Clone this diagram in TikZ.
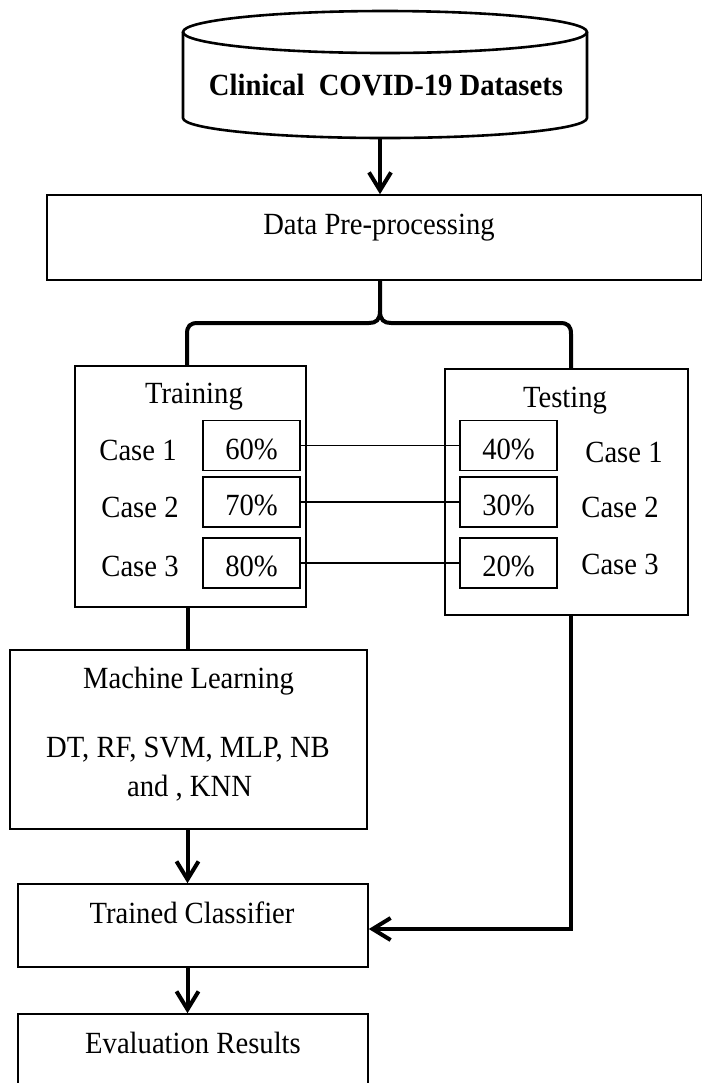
\documentclass[tikz,border=0pt]{standalone}
\usepackage{fontspec}
\setmainfont{Liberation Serif}[FakeStretch=0.93]
\usetikzlibrary{arrows.meta}
\begin{document}
\begin{tikzpicture}[x=0.5pt,y=-0.5pt,
  frame/.style={draw, line width=0.8pt, inner sep=0pt},
  lbl/.style={font=\fontsize{15.4pt}{17pt}\selectfont, inner sep=0pt, anchor=base},
  pct/.style={frame, minimum width=48.5pt, minimum height=25pt, text height=13.75pt, text depth=0pt, font=\fontsize{15.4pt}{17pt}\selectfont},
  heavy/.style={line width=2pt},
  arr/.style={line width=2pt, -{Straight Barb[length=9pt,width=11pt]}},
  link/.style={line width=0.8pt},
  cyl/.style={line width=1.3pt}]
\useasboundingbox (0,0) rectangle (703,1083);
\fill[white] (0,0) rectangle (703,1083);

% database cylinder
\draw[cyl] (385,32) ellipse [x radius=101pt, y radius=10.5pt];
\draw[cyl] (183,32) -- (183,118) arc[start angle=180, end angle=360, x radius=101pt, y radius=10pt] -- (587,32);
\node[lbl, font=\fontsize{15.4pt}{17pt}\selectfont\bfseries] (db) at (386,95) {Clinical\ \ COVID-19 Datasets};
\coordinate (dbbot) at (380,137);

% pre-processing
\node[frame, minimum width=327.25pt, minimum height=42.5pt] (pre) at (374.25,237.5) {};
\node[lbl] (pret) at (379,234) {Data Pre-processing};
\draw[arr] (dbbot) -- (pre.north -| dbbot);

% training / testing frames
\node[frame, minimum width=115.5pt, minimum height=120.5pt] (train) at (190.5,486.5) {};
\node[frame, minimum width=121.5pt, minimum height=123pt] (test) at (566.5,492) {};
\node[lbl] (trt) at (194,403) {Training};
\node[lbl] (tst) at (565,407) {Testing};

% brace
\coordinate (bx) at (380,0);
\coordinate (lleg) at (187,0);
\coordinate (rleg) at (571,0);
\draw[heavy] (pre.south -| bx) -- (380,311) .. controls (380,320) and (376,323) .. (369,323) -- (198,323) .. controls (190,323) and (187,326) .. (187,334) -- (train.north -| lleg);
\draw[heavy] (380,311) .. controls (380,320) and (384,323) .. (391,323) -- (560,323) .. controls (568,323) and (571,326) .. (571,334) -- (test.north -| rleg);

% percentage boxes
\node[pct] (l1) at (251.5,445.5) {60\%};
\node[pct] (l2) at (251.5,502) {70\%};
\node[pct] (l3) at (251.5,563) {80\%};
\node[pct] (r1) at (508.5,445.5) {40\%};
\node[pct] (r2) at (508.5,502) {30\%};
\node[pct] (r3) at (508.5,563) {20\%};
\draw[link] (l1.east) -- (r1.west);
\draw[link] (l2.east) -- (r2.west);
\draw[link] (l3.east) -- (r3.west);

% case labels
\node[lbl] (ca1) at (138,460) {Case 1};
\node[lbl] (ca2) at (140,517) {Case 2};
\node[lbl] (ca3) at (140,576) {Case 3};
\node[lbl] (cb1) at (624,462) {Case 1};
\node[lbl] (cb2) at (620,517) {Case 2};
\node[lbl] (cb3) at (620,574) {Case 3};

% machine learning
\node[frame, minimum width=178.5pt, minimum height=89.5pt] (ml) at (188.5,739.5) {};
\node[lbl] (mlt) at (188.5,688) {Machine Learning};
\node[lbl] (mla) at (188,757) {DT, RF, SVM, MLP, NB};
\node[lbl] (mlb) at (189.5,796) {and , KNN};

% trained classifier and evaluation
\node[frame, minimum width=175pt, minimum height=41.5pt] (tc) at (193,925.5) {};
\node[lbl] (tct) at (192,923) {Trained Classifier};
\node[frame, minimum width=175pt, minimum height=38pt] (ev) at (193,1052) {};
\node[lbl] (evt) at (193,1053) {Evaluation Results};

% connectors
\coordinate (ax) at (187.5,0);
\draw[heavy] (train.south -| ax) -- (ml.north -| ax);
\draw[arr] (ml.south -| ax) -- (tc.north -| ax);
\draw[arr] (tc.south -| ax) -- (ev.north -| ax);
\draw[arr] (test.south -| rleg) |- ([yshift=-1.75pt]tc.east);
\end{tikzpicture}
\end{document}
